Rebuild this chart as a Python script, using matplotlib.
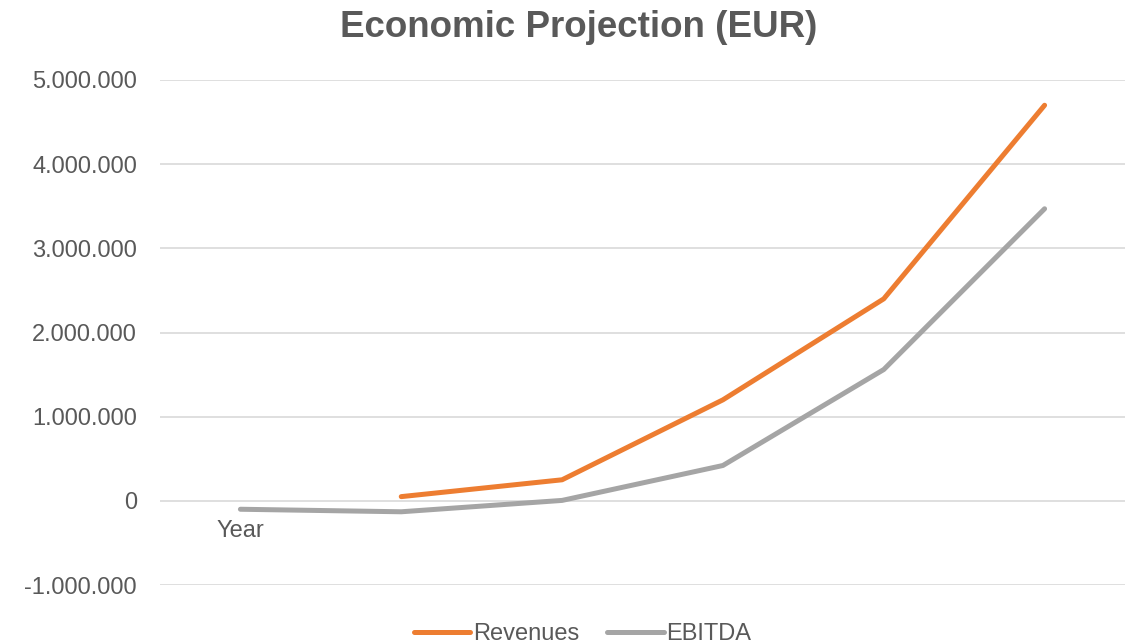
import matplotlib
matplotlib.use('Agg')
import matplotlib.pyplot as plt
from matplotlib.ticker import FuncFormatter
import numpy as np

# category labels (only the first one is named in the source sheet)
categories = ["Year", "", "", "", "", ""]
revenues = [None, 50000, 250000, 1200000, 2400000, 4700000]
ebitda = [-100000, -130000, 5000, 420000, 1560000, 3470000]

ORANGE = '#ED7D31'
GREY = '#A5A5A5'
TXT = '#595959'

plt.rcParams['font.family'] = ['Liberation Sans', 'DejaVu Sans']

fig = plt.figure(figsize=(11.29, 6.43), dpi=100)
ax = fig.add_axes([160 / 1129, 58 / 643, 965 / 1129, 505 / 643])

x = np.arange(len(categories))
rev = np.array([np.nan if v is None else v for v in revenues], dtype=float)
ax.plot(x, rev, color=ORANGE, lw=3.6, solid_capstyle='round',
        solid_joinstyle='round', label='Revenues', zorder=3)
ax.plot(x, ebitda, color=GREY, lw=3.6, solid_capstyle='round',
        solid_joinstyle='round', label='EBITDA', zorder=3)

ax.set_xlim(-0.5, len(categories) - 0.5)
ax.set_ylim(-1000000, 5000000)
ax.set_yticks(np.arange(-1000000, 5000001, 1000000))
ax.yaxis.set_major_formatter(FuncFormatter(lambda v, p: f'{int(v):,}'.replace(',', '.')))
ax.grid(axis='y', color='#D9D9D9', lw=1.2)
ax.set_axisbelow(True)
for s in ax.spines.values():
    s.set_visible(False)
ax.tick_params(axis='y', length=0, labelsize=17, labelcolor=TXT, pad=16.5)

# category labels sit just under the zero line, like Excel's crossing axis
ax.set_xticks([])
for xi, lab in zip(x, categories):
    ax.text(xi, -230000, lab, ha='center', va='top', fontsize=17, color=TXT)

fig.text(0.513, 0.958, 'Economic Projection (EUR)', ha='center', va='center',
         fontsize=26.5, fontweight='bold', color=TXT)

leg = fig.legend(loc='center', bbox_to_anchor=(0.516, 0.014), ncol=2, frameon=False,
                 fontsize=17, handlelength=2.4, handletextpad=0.1, columnspacing=1.2)
for t in leg.get_texts():
    t.set_color(TXT)

fig.savefig('out.png', dpi=100)
